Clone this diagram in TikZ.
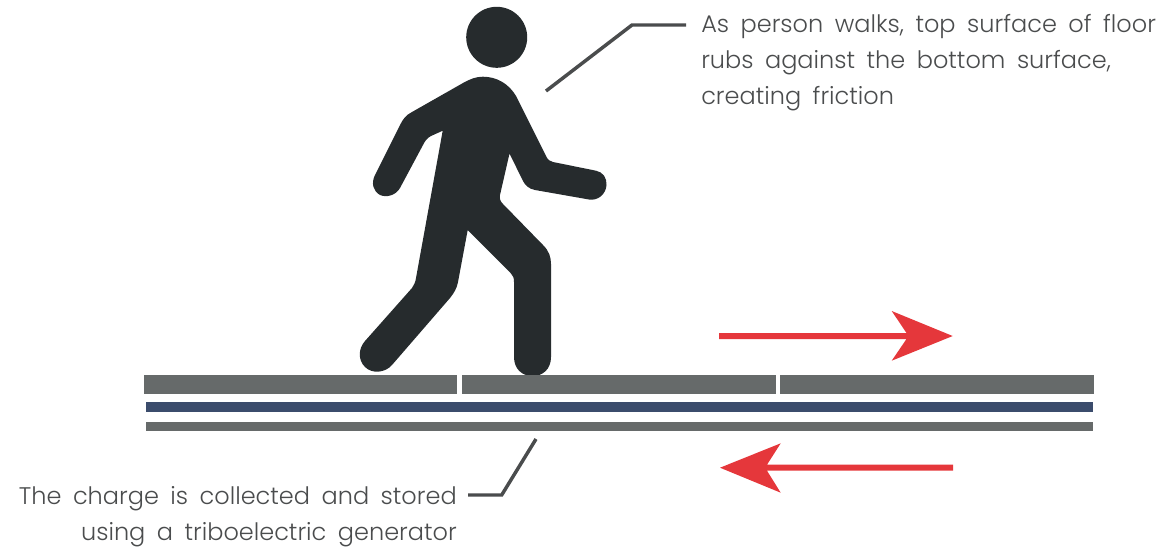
\documentclass[tikz,border=0pt]{standalone}
\usepackage{fontspec}
\setmainfont{Poppins}[UprightFont=* Light,WordSpace=1.75]
\definecolor{ink}{HTML}{262B2D}
\definecolor{slab}{HTML}{666A6A}
\definecolor{film}{HTML}{3B4C6C}
\definecolor{hot}{HTML}{E5373B}
\definecolor{lead}{HTML}{4A4C4D}
\tikzset{
  slabbar/.style={fill=slab,draw=none},
  filmbar/.style={fill=film,draw=none},
  leader/.style={draw=lead,line width=2.6pt,line join=miter},
  redarrow/.style={fill=hot,draw=none},
  caption/.style={text=lead,font=\fontsize{18}{27}\selectfont,inner sep=0pt},
}
\begin{document}
\begin{tikzpicture}[x=0.75pt,y=-0.75pt]
\useasboundingbox (0,0) rectangle (1166,551);
% person
\fill[ink] (496.7,37.3) circle [radius=30.5*0.75pt];
\fill[ink]
 (483,76.7) .. controls (497,76.7) and (509,84) .. (516,96)
 -- (546,156) .. controls (548,160) and (550,161.5) .. (553,162)
 -- (596,170.7) .. controls (603,172) and (607,178) .. (606.5,185)
 .. controls (606,194) and (598,201) .. (589,199.5)
 -- (535,190) .. controls (529,189) and (525,185) .. (523,181)
 -- (509.5,153.5) -- (500,195) .. controls (499.5,199) and (500,201) .. (503,204)
 -- (543,245) .. controls (549,251) and (551,257) .. (551,264)
 -- (551,357) .. controls (551,369) and (543,376) .. (532.5,376)
 .. controls (522,376) and (514,369) .. (514,357)
 -- (514,282) .. controls (514,278) and (513,275.5) .. (511,273.5)
 -- (467.7,230) -- (458,282) .. controls (457,288) and (454,293) .. (450,298)
 -- (392,365) .. controls (385,373) and (372,374) .. (365,367)
 .. controls (358,360) and (358,349) .. (365,341)
 -- (412,288) .. controls (414,285) and (415.5,282) .. (416,278)
 -- (442.7,130.7) -- (431,136) .. controls (427,138) and (425,141) .. (423,145)
 -- (400,188) .. controls (396,195) and (387,198) .. (380,195)
 .. controls (373,191) and (371,183) .. (375,175)
 -- (400,125) .. controls (403,119) and (406,115) .. (412,112)
 -- (463,83) .. controls (470,79) and (476,76.7) .. (483,76.7) -- cycle;
% floor
\path[slabbar] (144,375) rectangle (457,394);
\path[slabbar] (462,375) rectangle (775.5,394);
\path[slabbar] (780,375) rectangle (1093.5,394);
\path[filmbar] (145.5,402) rectangle (1092.5,412);
\path[slabbar] (145.5,421.7) rectangle (1092.5,431);
% red arrows
\path[redarrow] (719,333) -- (906.5,333) -- (891.7,311) -- (952.7,336) -- (891.7,360.7) -- (906.5,339) -- (719,339) -- cycle;
\path[redarrow] (953,464.7) -- (767,464.7) -- (780.7,443.3) -- (720,467.7) -- (780.7,492.7) -- (767,470.7) -- (953,470.7) -- cycle;
% captions
\node[caption,anchor=base west,align=left] (top) at (701,104) {As person walks, top surface of floor\\rubs against the bottom surface,\\creating friction};
\node[caption,anchor=base east,align=right] (bottom) at (457,540) {The charge is collected and stored\\using a triboelectric generator};
% leaders
\coordinate (topfree) at (546,91);
\coordinate (topknee) at (632,25);
\coordinate (topend) at (686,25);
\coordinate (botfree) at (536,439);
\coordinate (botknee) at (501.7,495);
\coordinate (botend) at (468,495);
\draw[leader] (topfree) -- (topknee) -- (topend);
\draw[leader] (botfree) -- (botknee) -- (botend);
\end{tikzpicture}
\end{document}
